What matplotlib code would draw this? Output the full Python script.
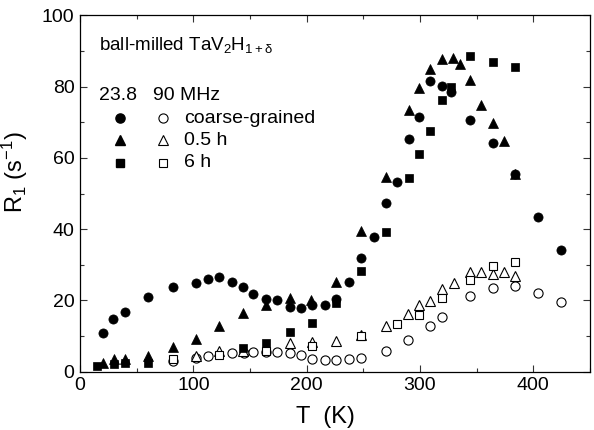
import matplotlib
matplotlib.use("Agg")
import matplotlib.pyplot as plt
from matplotlib.ticker import MultipleLocator

plt.rcParams['font.family'] = ['Liberation Sans', 'DejaVu Sans']
plt.rcParams['mathtext.fontset'] = 'custom'
plt.rcParams['mathtext.rm'] = 'Liberation Sans'
plt.rcParams['mathtext.it'] = 'Liberation Sans'

# ---- 23.8 MHz (filled symbols) ----
T_cg_23 = [20, 29, 40, 60, 82, 102, 113, 123, 134, 144, 153, 164, 174, 185, 195, 205, 216,
           226, 237, 248, 259, 270, 280, 290, 299, 309, 319, 327, 344, 364, 384, 404, 424]
R_cg_23 = [10.9, 14.8, 16.7, 20.9, 23.8, 25.0, 26.0, 26.5, 25.1, 23.7, 21.7, 20.3, 20.1, 18.3,
           18.0, 18.7, 18.7, 20.3, 25.3, 31.8, 37.7, 47.3, 53.3, 65.2, 71.5, 81.6, 80.3, 78.5,
           70.6, 64.2, 55.5, 43.5, 34.1]

T_05_23 = [20, 30, 40, 60, 82, 102, 123, 144, 164, 185, 204, 226, 248, 270, 290, 299, 309,
           319, 329, 335, 344, 354, 364, 374, 384]
R_05_23 = [2.3, 3.6, 3.6, 4.5, 7.0, 9.1, 12.8, 16.4, 18.7, 20.6, 20.1, 25.2, 39.6, 54.7, 73.6,
           79.7, 85.1, 87.9, 88.1, 86.5, 81.8, 74.8, 69.7, 64.8, 55.5]

T_6h_23 = [15, 30, 40, 60, 144, 164, 185, 205, 226, 248, 270, 290, 299, 309, 319, 327, 344,
           364, 384]
R_6h_23 = [1.7, 2.1, 2.3, 2.5, 6.6, 8.0, 11.1, 13.7, 19.2, 28.2, 39.2, 54.5, 61.1, 67.7, 76.4,
           79.9, 88.6, 87.0, 85.6]

# ---- 90 MHz (open symbols) ----
T_cg_90 = [82, 102, 113, 134, 145, 153, 164, 174, 185, 195, 205, 216, 226, 237, 248, 270, 289,
           309, 319, 344, 364, 384, 404, 424]
R_cg_90 = [3.0, 3.8, 4.5, 5.2, 5.3, 5.5, 5.6, 5.6, 5.3, 4.7, 3.6, 3.3, 3.2, 3.5, 3.9, 5.7, 8.8,
           12.9, 15.3, 21.2, 23.6, 24.1, 22.0, 19.6]

T_05_90 = [102, 123, 144, 185, 205, 226, 248, 270, 289, 299, 309, 319, 330, 344, 354, 364, 374,
           384]
R_05_90 = [4.5, 5.9, 5.8, 8.1, 8.2, 8.7, 10.3, 12.8, 16.1, 18.7, 19.9, 23.2, 24.8, 27.9, 27.9,
           27.4, 27.9, 26.8]

T_6h_90 = [82, 123, 164, 205, 248, 280, 299, 319, 344, 364, 384]
R_6h_90 = [3.6, 4.7, 5.9, 7.2, 10.0, 13.3, 15.9, 20.7, 25.7, 29.6, 30.9]

sample_labels = ['coarse-grained', '0.5 h', '6 h']
markers = ['o', '^', 's']
sizes = [6.6, 7.2, 5.8]

fig = plt.figure(figsize=(5.94, 4.30), dpi=100)
ax = fig.add_axes([0.1347, 0.1356, 0.8586, 0.8284])

series_23 = [(T_cg_23, R_cg_23), (T_05_23, R_05_23), (T_6h_23, R_6h_23)]
series_90 = [(T_cg_90, R_cg_90), (T_05_90, R_05_90), (T_6h_90, R_6h_90)]

for (t, r), m, s in zip(series_90, markers, sizes):
    ax.plot(t, r, linestyle='none', marker=m, ms=s, mfc='white', mec='black', mew=0.8,
            zorder=2)
for (t, r), m, s in zip(series_23, markers, sizes):
    ax.plot(t, r, linestyle='none', marker=m, ms=s, mfc='black', mec='black', mew=0.5,
            zorder=3)

ax.set_xlim(0, 450)
ax.set_ylim(0, 100)
ax.xaxis.set_major_locator(MultipleLocator(100))
ax.xaxis.set_minor_locator(MultipleLocator(50))
ax.yaxis.set_major_locator(MultipleLocator(20))
ax.yaxis.set_minor_locator(MultipleLocator(10))
ax.tick_params(which='both', direction='in', top=True, right=True, labelsize=14,
               width=0.8, color='#333333')
ax.tick_params(which='major', length=5, pad=4)
ax.tick_params(which='minor', length=3)
for sp in ax.spines.values():
    sp.set_linewidth(0.9)

ax.set_xlabel('T  (K)', fontsize=17)
ax.xaxis.set_label_coords(0.482, -0.095)
ax.set_ylabel(r'R$_1$ (s$^{-1}$)', fontsize=17)
ax.yaxis.set_label_coords(-0.098, 0.56)

# annotation block
ax.text(0.037, 0.917, r'ball-milled TaV$_2$H$_{1+\delta}$', transform=ax.transAxes,
        fontsize=13.5, va='center', ha='left')
ax.text(0.037, 0.776, '23.8', transform=ax.transAxes, fontsize=14, va='center', ha='left')
ax.text(0.143, 0.776, '90 MHz', transform=ax.transAxes, fontsize=14, va='center', ha='left')
rows_y = [0.712, 0.650, 0.586]
for y, m, s, lab in zip(rows_y, markers, sizes, sample_labels):
    ax.plot([0.078], [y], marker=m, ms=s, mfc='black', mec='black', linestyle='none',
            transform=ax.transAxes)
    ax.plot([0.163], [y], marker=m, ms=s, mfc='white', mec='black', mew=0.8,
            linestyle='none', transform=ax.transAxes)
    ax.text(0.204, y, lab, transform=ax.transAxes, fontsize=14, va='center', ha='left')

fig.savefig('out.png', dpi=100)
